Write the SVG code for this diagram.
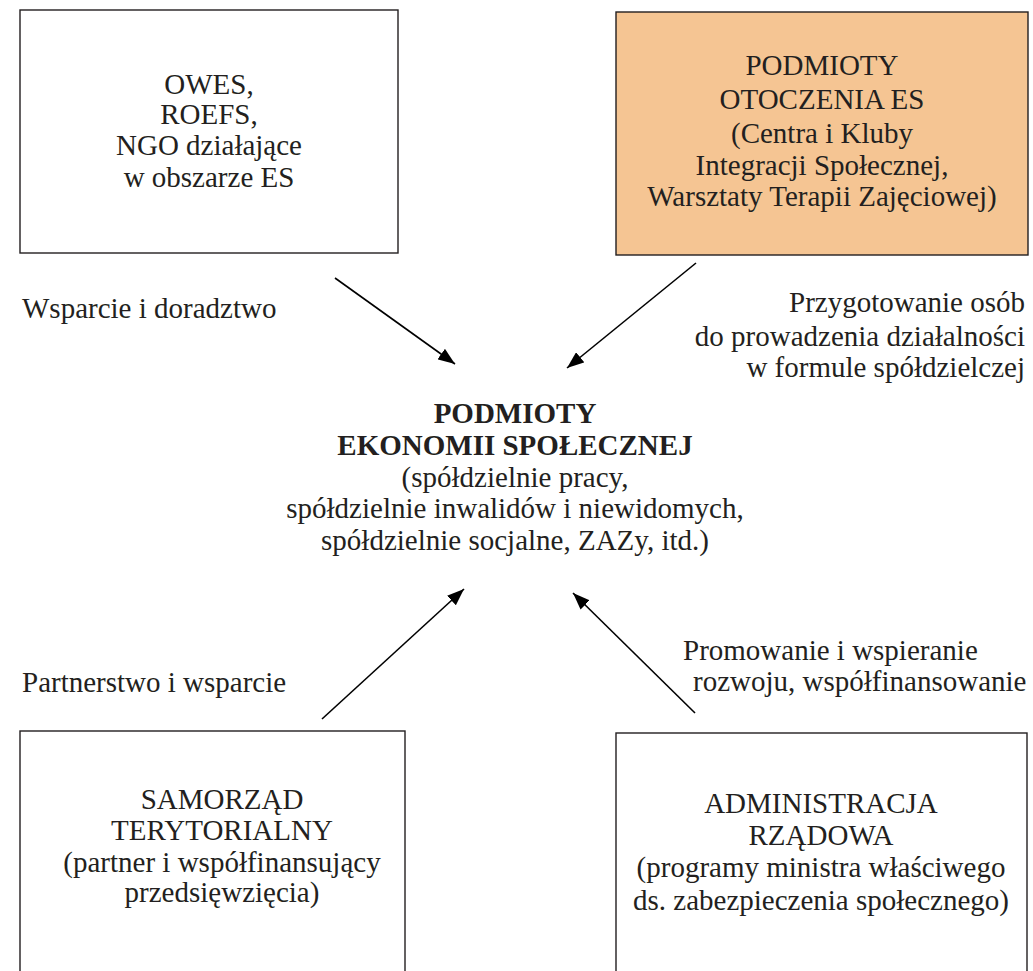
<svg xmlns="http://www.w3.org/2000/svg" width="1033" height="971" viewBox="0 0 1033 971">
<style>
  text { font-family: "Liberation Serif", "Times New Roman", serif; font-size: 29px; fill: #231f20; }
  .c { text-anchor: middle; }
  .e { text-anchor: end; }
  .b { font-weight: bold; }
  .box { fill: #ffffff; stroke: #231f20; stroke-width: 1.4; }
  .orange { fill: #F5C593; }
  .conn { stroke: #000000; stroke-width: 1.6; fill: none; marker-end: url(#arr); }
</style>
<defs>
  <marker id="arr" markerUnits="userSpaceOnUse" markerWidth="17" markerHeight="13" refX="17" refY="6.5" orient="auto">
    <path d="M0,0 L17,6.5 L0,13 z" fill="#000000"/>
  </marker>
</defs>
<rect width="1033" height="971" fill="#ffffff"/>

<g id="node-owes">
  <rect class="box" x="20" y="10" width="378" height="243"/>
  <text class="c" x="209" y="94">OWES,</text>
  <text class="c" x="209" y="124">ROEFS,</text>
  <text class="c" x="209" y="155">NGO działające</text>
  <text class="c" x="209" y="187">w obszarze ES</text>
</g>

<g id="node-otoczenie">
  <rect class="box orange" x="616" y="12" width="412" height="243"/>
  <text class="c" x="822" y="75">PODMIOTY</text>
  <text class="c" x="822" y="109">OTOCZENIA ES</text>
  <text class="c" x="822" y="143">(Centra i Kluby</text>
  <text class="c" x="822" y="175">Integracji Społecznej,</text>
  <text class="c" x="822" y="206">Warsztaty Terapii Zajęciowej)</text>
</g>

<g id="node-pes">
  <text class="c b" x="515" y="423">PODMIOTY</text>
  <text class="c b" x="515" y="455">EKONOMII SPOŁECZNEJ</text>
  <text class="c" x="515" y="487">(spółdzielnie pracy,</text>
  <text class="c" x="515" y="518">spółdzielnie inwalidów i niewidomych,</text>
  <text class="c" x="515" y="550">spółdzielnie socjalne, ZAZy, itd.)</text>
</g>

<g id="node-samorzad">
  <rect class="box" x="20" y="731" width="385" height="260"/>
  <text class="c" x="222" y="809">SAMORZĄD</text>
  <text class="c" x="222" y="840">TERYTORIALNY</text>
  <text class="c" x="222" y="872">(partner i współfinansujący</text>
  <text class="c" x="222" y="902">przedsięwzięcia)</text>
</g>

<g id="node-administracja">
  <rect class="box" x="616" y="733" width="411" height="260"/>
  <text class="c" x="821" y="813">ADMINISTRACJA</text>
  <text class="c" x="821" y="845">RZĄDOWA</text>
  <text class="c" x="821" y="877">(programy ministra właściwego</text>
  <text class="c" x="821" y="910">ds. zabezpieczenia społecznego)</text>
</g>

<g id="connectors">
  <line class="conn" x1="335" y1="278" x2="455" y2="364"/>
  <line class="conn" x1="696" y1="263" x2="567" y2="368"/>
  <line class="conn" x1="322" y1="719" x2="464" y2="589"/>
  <line class="conn" x1="695" y1="713" x2="573" y2="593"/>
</g>

<g id="labels">
  <text x="22" y="318">Wsparcie i doradztwo</text>
  <text class="e" x="1025" y="312">Przygotowanie osób</text>
  <text class="e" x="1025" y="346">do prowadzenia działalności</text>
  <text class="e" x="1025" y="377">w formule spółdzielczej</text>
  <text x="22" y="692">Partnerstwo i wsparcie</text>
  <text x="683" y="660">Promowanie i wspieranie</text>
  <text x="693" y="691">rozwoju, współfinansowanie</text>
</g>
</svg>
